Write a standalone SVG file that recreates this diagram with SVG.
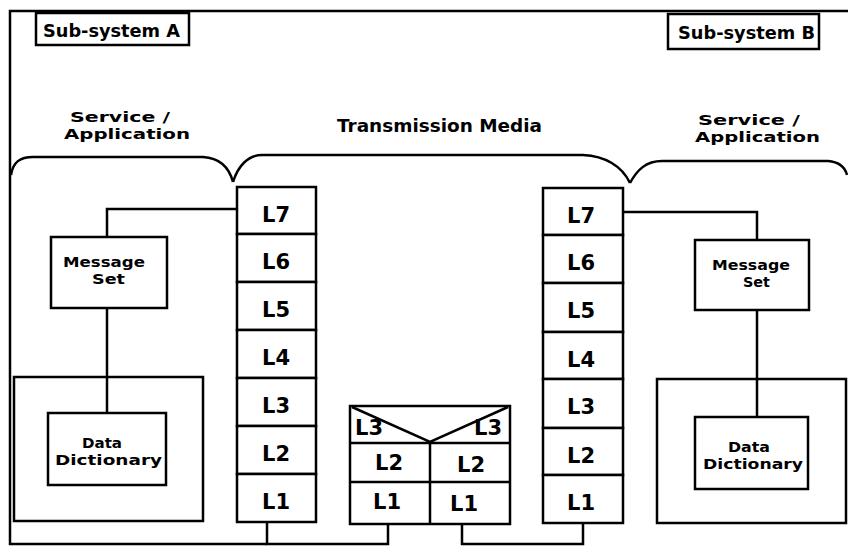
<svg xmlns="http://www.w3.org/2000/svg" width="848" height="547" viewBox="0 0 848 547">
<style>
.b{fill:#fff;stroke:#000;stroke-width:2.5}
.l{fill:none;stroke:#000;stroke-width:2.5;stroke-linejoin:miter}
text{font-family:"DejaVu Sans","Liberation Sans",sans-serif;font-weight:bold;fill:#000}
.t{font-size:18px}
.s{font-size:14px}
.m{font-size:13.5px}
.d{font-size:14.5px}
.lay{font-size:21px;text-anchor:middle}
</style>
<rect width="848" height="547" fill="#fff"/>
<g id="frame">
<path class="l" d="M848,11 H10 V544 H267"/>
</g>
<g id="braces">
<path class="l" d="M11,175 C13,162 20,157 33,157 L203,157 C220,158 229,167 233,182"/>
<path class="l" d="M233,182 C238,166 248,155 262,155 L583,155 C605,156 622,166 630,183"/>
<path class="l" d="M630,183 C637,170 646,161 662,161 L828,161 C840,162 845,167 847,175"/>
</g>
<g id="subsysA"><rect class="b" x="36" y="13" width="153" height="32"/><text class="t" x="43" y="37" textLength="137" lengthAdjust="spacingAndGlyphs">Sub-system A</text></g>
<g id="subsysB"><rect class="b" x="668" y="14" width="151" height="35"/><text class="t" x="678" y="39" textLength="137" lengthAdjust="spacingAndGlyphs">Sub-system B</text></g>
<g id="svcA"><text class="s" x="70" y="122" textLength="100" lengthAdjust="spacingAndGlyphs">Service /</text><text class="s" x="64" y="139" textLength="126" lengthAdjust="spacingAndGlyphs">Application</text></g>
<g id="svcB"><text class="s" x="698" y="125" textLength="102" lengthAdjust="spacingAndGlyphs">Service /</text><text class="s" x="695" y="142" textLength="125" lengthAdjust="spacingAndGlyphs">Application</text></g>
<g id="media"><text class="t" x="337" y="132" textLength="205" lengthAdjust="spacingAndGlyphs">Transmission Media</text></g>
<g id="connectors">
<path class="l" d="M107,237 V209 H237"/>
<path class="l" d="M107,308 V413"/>
<path class="l" d="M623,212 H757 V240"/>
<path class="l" d="M757,310 V417"/>
<path class="l" d="M267,522 V544 H388 V524"/>
<path class="l" d="M462,524 V544 H583 V523"/>
</g>
<g id="ddOuterA"><rect class="b" x="14" y="377" width="189" height="144" style="fill:none"/></g>
<g id="ddOuterB"><rect class="b" x="657" y="379" width="189" height="144" style="fill:none"/></g>
<g id="msgA"><rect class="b" x="51" y="237" width="116" height="71"/><text class="m" x="63" y="267" textLength="82" lengthAdjust="spacingAndGlyphs">Message</text><text class="m" x="92" y="284" textLength="33" lengthAdjust="spacingAndGlyphs">Set</text></g>
<g id="ddA"><rect class="b" x="48" y="413" width="118" height="72"/><text class="d" x="82" y="448" textLength="40" lengthAdjust="spacingAndGlyphs">Data</text><text class="d" x="55" y="465" textLength="107" lengthAdjust="spacingAndGlyphs">Dictionary</text></g>
<g id="msgB"><rect class="b" x="695" y="240" width="114" height="70"/><text class="m" x="712" y="270" textLength="78" lengthAdjust="spacingAndGlyphs">Message</text><text class="m" x="743" y="287" textLength="27" lengthAdjust="spacingAndGlyphs">Set</text></g>
<g id="ddB"><rect class="b" x="695" y="417" width="113" height="72"/><text class="d" x="728" y="452" textLength="42" lengthAdjust="spacingAndGlyphs">Data</text><text class="d" x="703" y="469" textLength="100" lengthAdjust="spacingAndGlyphs">Dictionary</text></g>
<g id="stackA">
<rect class="b" x="237" y="187" width="79" height="47"/>
<rect class="b" x="237" y="234" width="79" height="48"/>
<rect class="b" x="237" y="282" width="79" height="48"/>
<rect class="b" x="237" y="330" width="79" height="48"/>
<rect class="b" x="237" y="378" width="79" height="48"/>
<rect class="b" x="237" y="426" width="79" height="48"/>
<rect class="b" x="237" y="474" width="79" height="48"/>
<text class="lay" x="276" y="222">L7</text>
<text class="lay" x="276" y="269">L6</text>
<text class="lay" x="276" y="317">L5</text>
<text class="lay" x="276" y="365">L4</text>
<text class="lay" x="276" y="413">L3</text>
<text class="lay" x="276" y="461">L2</text>
<text class="lay" x="276" y="509">L1</text>
</g>
<g id="stackB">
<rect class="b" x="543" y="188" width="80" height="47"/>
<rect class="b" x="543" y="235" width="80" height="48"/>
<rect class="b" x="543" y="283" width="80" height="49"/>
<rect class="b" x="543" y="332" width="80" height="47"/>
<rect class="b" x="543" y="379" width="80" height="49"/>
<rect class="b" x="543" y="428" width="80" height="47"/>
<rect class="b" x="543" y="475" width="80" height="48"/>
<text class="lay" x="581" y="223">L7</text>
<text class="lay" x="581" y="270">L6</text>
<text class="lay" x="581" y="318">L5</text>
<text class="lay" x="581" y="367">L4</text>
<text class="lay" x="581" y="414">L3</text>
<text class="lay" x="581" y="463">L2</text>
<text class="lay" x="581" y="510">L1</text>
</g>
<g id="router">
<rect class="b" x="350" y="406" width="160" height="118"/>
<path class="l" d="M350,443 H510 M350,482 H510 M430,442 V524 M352,407 L430,442 L508,407"/>
<text class="lay" x="369" y="435">L3</text>
<text class="lay" x="488" y="435">L3</text>
<text class="lay" x="389" y="470">L2</text>
<text class="lay" x="471" y="472">L2</text>
<text class="lay" x="387" y="509">L1</text>
<text class="lay" x="464" y="511">L1</text>
</g>
</svg>
